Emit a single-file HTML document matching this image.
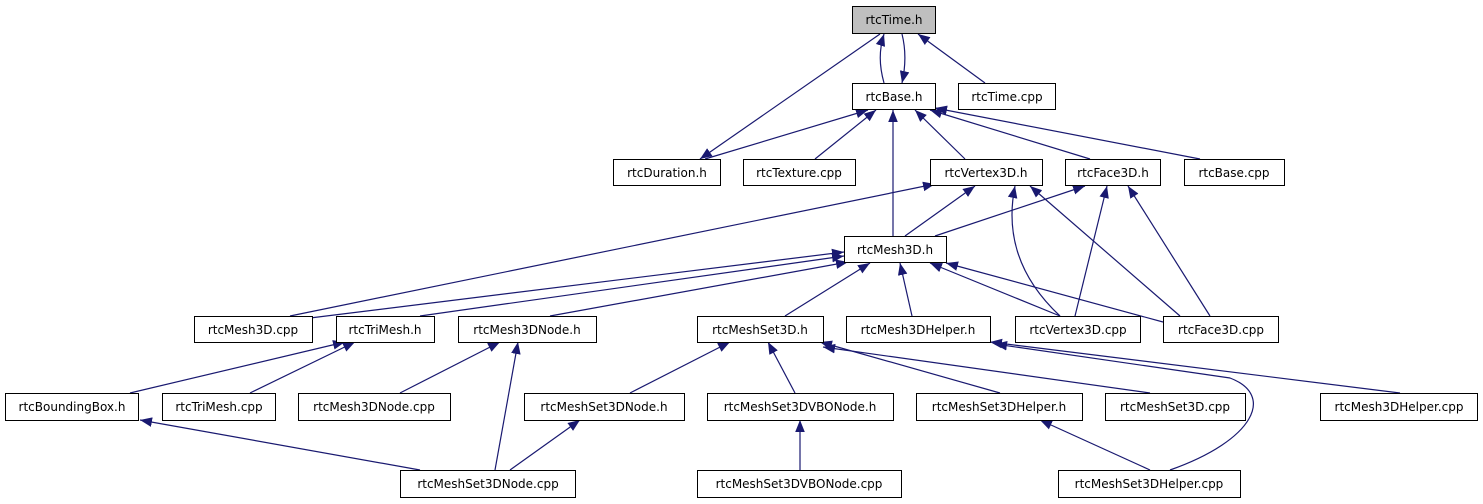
<!DOCTYPE html>
<html><head><meta charset="utf-8"><style>
html,body{margin:0;padding:0;background:#fff;}
svg{display:block;}
text{font-family:"DejaVu Sans","Liberation Sans",sans-serif;font-size:12px;fill:#000;}
rect{fill:#fff;stroke:#000;stroke-width:1;}
.e{stroke:#191970;stroke-width:1.2;fill:none;marker-end:url(#a);}
</style></head><body>
<svg width="1483" height="504" viewBox="0 0 1483 504" xmlns="http://www.w3.org/2000/svg">
<defs><marker id="a" viewBox="0 0 10 8" refX="10" refY="4" markerUnits="userSpaceOnUse" markerWidth="12" markerHeight="10" orient="auto"><path d="M0,0 L10,4 L0,8 z" fill="#191970"/></marker></defs>
<g>
<path class="e" d="M884,83 C879,65 879,50 884,34"/>
<path class="e" d="M902,34 C906,50 906,65 902,83"/>
<path class="e" d="M985,83 L918,34"/>
<path class="e" d="M880,34 L700,159"/>
<path class="e" d="M705,159 L868,110"/>
<path class="e" d="M815,159 L876,110"/>
<path class="e" d="M965,159 L915,110"/>
<path class="e" d="M1090,159 L930,110"/>
<path class="e" d="M1200,159 L935,108"/>
<path class="e" d="M893,236 L893,110"/>
<path class="e" d="M290,316 L935,184"/>
<path class="e" d="M905,236 L975,186"/>
<path class="e" d="M1060,316 Q1000,260 1015,186"/>
<path class="e" d="M1180,316 L1030,186"/>
<path class="e" d="M935,236 L1085,186"/>
<path class="e" d="M1075,316 L1107,186"/>
<path class="e" d="M1210,316 L1128,186"/>
<path class="e" d="M310,318 L844,252"/>
<path class="e" d="M420,316 L844,256"/>
<path class="e" d="M550,316 L848,262"/>
<path class="e" d="M785,316 L870,263"/>
<path class="e" d="M912,316 L900,263"/>
<path class="e" d="M1060,316 L930,263"/>
<path class="e" d="M1163,322 L946,263"/>
<path class="e" d="M130,393 L345,342"/>
<path class="e" d="M250,393 L355,342"/>
<path class="e" d="M400,393 L500,342"/>
<path class="e" d="M495,470 L518,342"/>
<path class="e" d="M630,393 L730,342"/>
<path class="e" d="M795,393 L768,342"/>
<path class="e" d="M1000,393 L820,342"/>
<path class="e" d="M1150,393 L823,347"/>
<path class="e" d="M1400,393 L990,342"/>
<path class="e" d="M1170,470 C1255,440 1275,395 1230,378 L995,344"/>
<path class="e" d="M420,470 L140,420"/>
<path class="e" d="M510,470 L580,420"/>
<path class="e" d="M800,470 L800,420"/>
<path class="e" d="M1150,470 L1040,420"/>
</g>
<g>
<rect x="852.5" y="6.5" width="83" height="27" style="fill:#bfbfbf"/><text x="894" y="24" text-anchor="middle">rtcTime.h</text>
<rect x="852.5" y="83.5" width="83" height="26"/><text x="894" y="101" text-anchor="middle">rtcBase.h</text>
<rect x="958.5" y="83.5" width="97" height="26"/><text x="1007" y="101" text-anchor="middle">rtcTime.cpp</text>
<rect x="613.5" y="159.5" width="107" height="26"/><text x="667" y="177" text-anchor="middle">rtcDuration.h</text>
<rect x="743.5" y="159.5" width="112" height="26"/><text x="799" y="177" text-anchor="middle">rtcTexture.cpp</text>
<rect x="930.5" y="159.5" width="112" height="26"/><text x="986" y="177" text-anchor="middle">rtcVertex3D.h</text>
<rect x="1065.5" y="159.5" width="95" height="26"/><text x="1113" y="177" text-anchor="middle">rtcFace3D.h</text>
<rect x="1184.5" y="159.5" width="100" height="26"/><text x="1234" y="177" text-anchor="middle">rtcBase.cpp</text>
<rect x="844.5" y="236.5" width="102" height="26"/><text x="895" y="254" text-anchor="middle">rtcMesh3D.h</text>
<rect x="194.5" y="316.5" width="118" height="26"/><text x="253" y="334" text-anchor="middle">rtcMesh3D.cpp</text>
<rect x="336.5" y="316.5" width="98" height="26"/><text x="385" y="334" text-anchor="middle">rtcTriMesh.h</text>
<rect x="458.5" y="316.5" width="138" height="26"/><text x="527" y="334" text-anchor="middle">rtcMesh3DNode.h</text>
<rect x="697.5" y="316.5" width="126" height="26"/><text x="760" y="334" text-anchor="middle">rtcMeshSet3D.h</text>
<rect x="846.5" y="316.5" width="144" height="26"/><text x="918" y="334" text-anchor="middle">rtcMesh3DHelper.h</text>
<rect x="1015.5" y="316.5" width="125" height="26"/><text x="1078" y="334" text-anchor="middle">rtcVertex3D.cpp</text>
<rect x="1163.5" y="316.5" width="115" height="26"/><text x="1221" y="334" text-anchor="middle">rtcFace3D.cpp</text>
<rect x="5.5" y="393.5" width="133" height="27"/><text x="72" y="411" text-anchor="middle">rtcBoundingBox.h</text>
<rect x="162.5" y="393.5" width="113" height="27"/><text x="219" y="411" text-anchor="middle">rtcTriMesh.cpp</text>
<rect x="298.5" y="393.5" width="152" height="27"/><text x="374" y="411" text-anchor="middle">rtcMesh3DNode.cpp</text>
<rect x="524.5" y="393.5" width="160" height="27"/><text x="604" y="411" text-anchor="middle">rtcMeshSet3DNode.h</text>
<rect x="707.5" y="393.5" width="186" height="27"/><text x="800" y="411" text-anchor="middle">rtcMeshSet3DVBONode.h</text>
<rect x="916.5" y="393.5" width="166" height="27"/><text x="999" y="411" text-anchor="middle">rtcMeshSet3DHelper.h</text>
<rect x="1105.5" y="393.5" width="140" height="27"/><text x="1175" y="411" text-anchor="middle">rtcMeshSet3D.cpp</text>
<rect x="1320.5" y="393.5" width="157" height="27"/><text x="1399" y="411" text-anchor="middle">rtcMesh3DHelper.cpp</text>
<rect x="400.5" y="470.5" width="175" height="27"/><text x="488" y="488" text-anchor="middle">rtcMeshSet3DNode.cpp</text>
<rect x="697.5" y="470.5" width="204" height="27"/><text x="799" y="488" text-anchor="middle">rtcMeshSet3DVBONode.cpp</text>
<rect x="1058.5" y="470.5" width="182" height="27"/><text x="1149" y="488" text-anchor="middle">rtcMeshSet3DHelper.cpp</text>
</g>
</svg>
</body></html>
